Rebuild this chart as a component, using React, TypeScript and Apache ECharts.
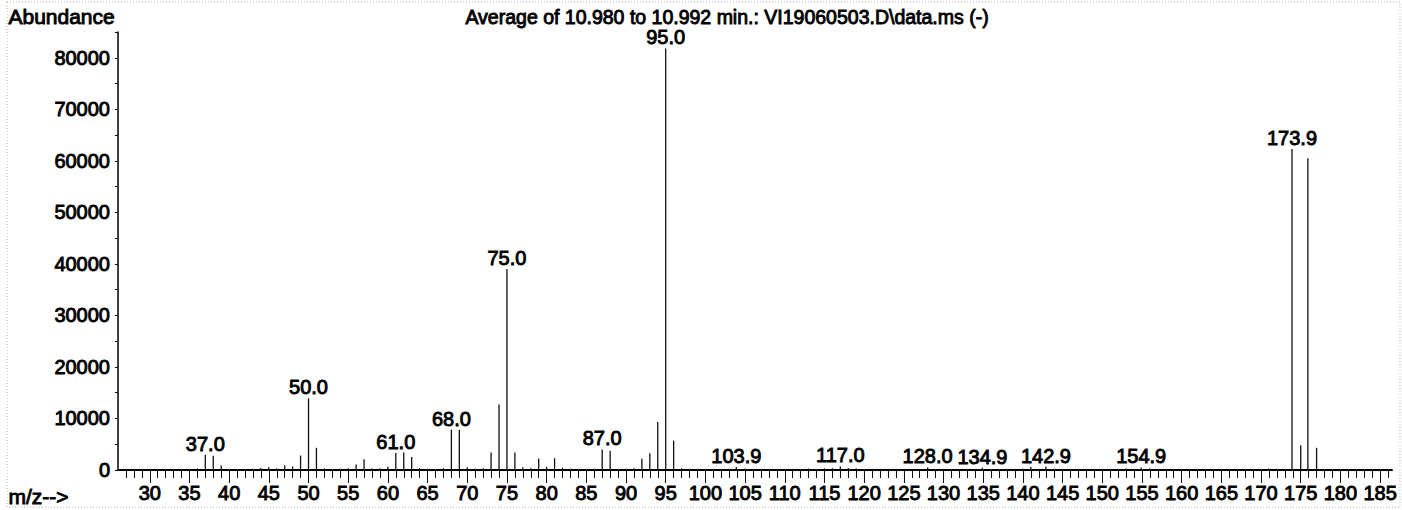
import React, { useEffect, useRef } from 'react';
import * as echarts from 'echarts';

// ---- Data ----
const mz = [
  36, 37, 38, 39, 40, 41, 42, 43, 44, 45, 46, 47, 48, 49, 50, 51, 52, 53, 54, 55,
  56, 57, 58, 59, 60, 61, 62, 63, 64, 65, 66, 67, 68, 69, 70, 71, 72, 73, 74, 75,
  76, 77, 78, 79, 80, 81, 82, 83, 84, 85, 86, 87, 88, 89, 90, 91, 92, 93, 94, 95,
  96, 97, 98, 99, 100, 101, 103, 103.9, 105, 107, 110, 112, 113, 115, 116, 117, 118, 119, 120,
  128, 129, 131, 134.9, 136, 140, 141, 142.9, 144, 152, 153, 154.9, 156, 162, 170, 171, 172,
  173.9, 175, 175.9, 177, 179,
];
const abundance = [
  300, 2950, 2750, 850, 200, 150, 150, 250, 400, 550, 350, 900, 700, 2800, 13900, 4300, 300, 200, 250, 350,
  1050, 2100, 300, 350, 650, 3300, 3400, 2500, 350, 250, 200, 350, 7850, 7800, 550, 250, 350, 3400, 12700, 39000,
  3400, 550, 350, 2250, 600, 2300, 450, 250, 150, 200, 250, 4000, 3750, 200, 250, 350, 2200, 3250, 9300, 81800,
  5700, 300, 150, 200, 150, 200, 250, 600, 300, 150, 200, 150, 250, 300, 350, 700, 400, 300, 150,
  500, 200, 150, 450, 200, 250, 600, 650, 250, 200, 300, 500, 300, 150, 200, 300, 250,
  62300, 4800, 60500, 4300, 150,
];
const labeledPeaks = [37, 50, 61, 68, 75, 87, 95, 103.9, 117, 128, 134.9, 142.9, 154.9, 173.9];
const xLabelValues = [30, 35, 40, 45, 50, 55, 60, 65, 70, 75, 80, 85, 90, 95, 100, 105, 110, 115, 120, 125, 130, 135, 140, 145, 150, 155, 160, 165, 170, 175, 180, 185];
const yLabelValues = [0, 10000, 20000, 30000, 40000, 50000, 60000, 70000, 80000];
const titleText = 'Average of 10.980 to 10.992 min.: VI19060503.D\\data.ms (-)';
const yAxisTitle = 'Abundance';
const xAxisTitle = 'm/z-->';

const X_MIN = 26;
const X_MAX = 186.5;
const Y_MAX = 85000;

const FONT = '"Liberation Sans", Arial, Helvetica, sans-serif';

export default function App() {
  const ref = useRef<HTMLDivElement>(null);

  useEffect(() => {
    if (!ref.current) return;
    const chart = echarts.init(ref.current, null, { renderer: 'svg' });

    const minorTicks: number[] = [];
    for (let v = 27; v <= 186; v++) minorTicks.push(v);
    const yTicks: number[] = [];
    for (let v = 0; v <= 85000; v += 5000) yTicks.push(v);

    const data = mz.map((m, i) => {
      const item: any = { value: [m, abundance[i]] };
      if (labeledPeaks.includes(m)) {
        item.label = { show: true, formatter: m.toFixed(1) };
      }
      return item;
    });

    const textStyleCommon = {
      color: '#000',
      fontSize: 20,
      fontFamily: FONT,
      textBorderColor: '#000',
      textBorderWidth: 0.9,
    };

    chart.setOption({
      animation: false,
      backgroundColor: '#fff',
      grid: { left: 118, right: 10, top: 32, bottom: 40, containLabel: false },
      xAxis: [
        {
          type: 'value',
          min: X_MIN,
          max: X_MAX,
          axisLine: { show: true, onZero: false, lineStyle: { color: '#000', width: 1.8 } },
          axisTick: { show: true, customValues: minorTicks, length: 8, lineStyle: { color: '#111', width: 1 } },
          axisLabel: { customValues: xLabelValues, margin: 13, ...textStyleCommon },
          splitLine: { show: false },
        },
        {
          type: 'value',
          min: X_MIN,
          max: X_MAX,
          position: 'bottom',
          axisLine: { show: false },
          axisTick: { show: true, customValues: xLabelValues, length: 13, lineStyle: { color: '#111', width: 1 } },
          axisLabel: { show: false },
          splitLine: { show: false },
        },
      ],
      yAxis: {
        type: 'value',
        min: 0,
        max: Y_MAX,
        axisLine: { show: true, lineStyle: { color: '#000', width: 1.5 } },
        axisTick: { show: true, customValues: yTicks, length: 3, lineStyle: { color: '#111', width: 1 } },
        axisLabel: {
          customValues: yLabelValues,
          margin: 8,
          formatter: (v: number) => String(v),
          ...textStyleCommon,
        },
        splitLine: { show: false },
      },
      series: [
        {
          type: 'bar',
          xAxisIndex: 0,
          data,
          barWidth: 1.3,
          itemStyle: { color: '#111' },
          label: {
            show: false,
            position: 'top',
            distance: 1,
            ...textStyleCommon,
          },
        },
      ],
      graphic: [
        {
          type: 'rect',
          shape: { x: 7, y: 2, width: 1393, height: 505 },
          style: { fill: 'none', stroke: '#b0b0b0', lineWidth: 1, lineDash: [1, 2] },
          silent: true,
        },
        {
          type: 'text',
          left: 8,
          top: 6,
          style: { text: yAxisTitle, font: `21px ${FONT}`, fill: '#000', stroke: '#000', lineWidth: 0.9 },
        },
        {
          type: 'text',
          left: 465,
          top: 7,
          style: { text: titleText, font: `19.5px ${FONT}`, fill: '#000', stroke: '#000', lineWidth: 0.9 },
        },
        {
          type: 'text',
          left: 8,
          top: 486,
          style: { text: xAxisTitle, font: `21px ${FONT}`, fill: '#000', stroke: '#000', lineWidth: 0.9 },
        },
      ],
    });

    return () => chart.dispose();
  }, []);

  return (
    <div
      ref={ref}
      style={{ position: 'fixed', left: 0, top: 0, width: 1402, height: 510, background: '#fff' }}
    />
  );
}
